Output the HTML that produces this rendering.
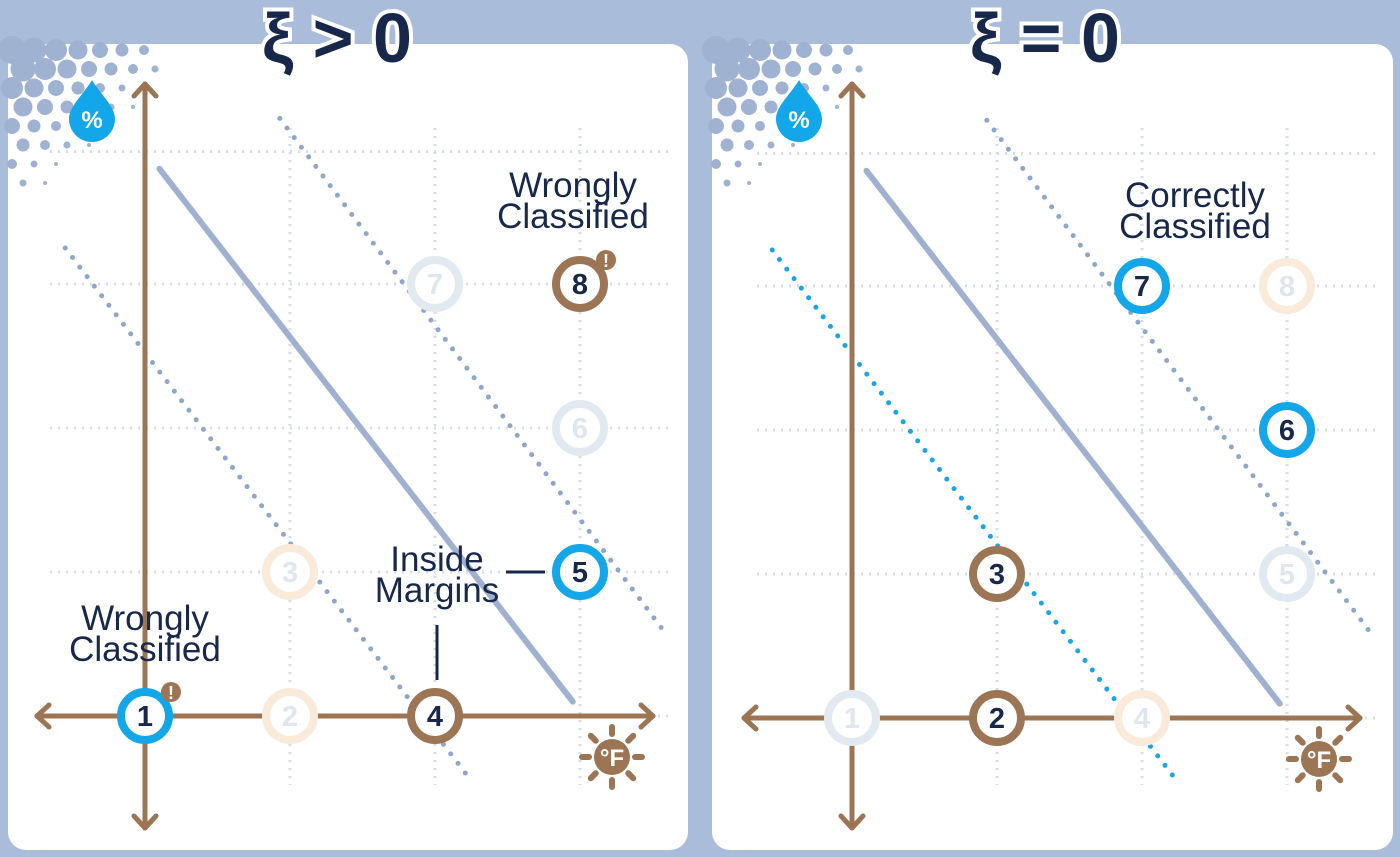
<!DOCTYPE html>
<html><head><meta charset="utf-8">
<style>
html,body{margin:0;padding:0;background:#a9bcda;}
svg{display:block;}
text{font-family:"Liberation Sans","DejaVu Sans",sans-serif;}
</style></head>
<body>
<svg id="svg" width="1400" height="857" viewBox="0 0 1400 857" xmlns="http://www.w3.org/2000/svg">
<rect x="0" y="0" width="1400" height="857" fill="#a9bcda"/>
<rect x="8" y="44" width="680" height="806" rx="18" fill="#ffffff"/>
<rect x="712" y="44" width="681" height="806" rx="18" fill="#ffffff"/>
<g id="layer"></g>
</svg>
<script>
// ---- data ----
const panelNames = ["xi-positive", "xi-zero"];
const panelTitles = ["ξ > 0", "ξ = 0"];
const pointIds = [1, 2, 3, 4, 5, 6, 7, 8];
const pointX = [0, 1, 1, 2, 3, 3, 2, 3];
const pointY = [0, 0, 1, 0, 1, 2, 3, 3];
const pointClass = ["blue", "brown", "brown", "brown", "blue", "blue", "blue", "brown"];
const activeLeft = [1, 0, 0, 1, 1, 0, 0, 1];
const activeRight = [0, 1, 1, 0, 0, 1, 1, 0];
const warnLeft = [1, 0, 0, 0, 0, 0, 0, 1];
const gridXTicks = [0, 1, 2, 3];
const gridYTicks = [0, 1, 2, 3, 3.92];
// line endpoints in data units: [x1,y1,x2,y2]
const hyperplane = [0.1, 3.8, 2.95, 0.1];
const marginUpper = [0.93, 4.15, 3.6, 0.56];
const marginLower = [-0.55, 3.25, 2.25, -0.45];

const NS = "http://www.w3.org/2000/svg";
const layer = document.getElementById('layer');
function mk(tag, attrs, parent) {
  const e = document.createElementNS(NS, tag);
  for (const k in attrs) e.setAttribute(k, attrs[k]);
  (parent || layer).appendChild(e);
  return e;
}
const origins = [[145, 716], [852, 718]];
const unit = 145;
function sx(p, v) { return origins[p][0] + v * unit; }
function sy(p, v) { return origins[p][1] - v * 144; }

const BLUE = "#13a6e8", BROWN = "#9c7554", NAVY = "#17284a", GREYB = "#9fb1cf";

panelNames.forEach((pn, p) => {
  const g = mk('g', {});
  
  
  const ox = origins[p][0], oy = origins[p][1];
  // halftone corner
  const px0 = p === 0 ? 8 : 712;
  const ht = mk('g', {fill: "#9fb2d1"}, g);
  
  
  for (let i = 0; i < 7; i++) for (let j = 0; j < 8; j++) {
    const r = Math.max(0, 14 - (i + j) * 1.5);
    if (r > 1.5) mk('circle', {cx: px0 + 4 + i * 22 + (j % 2) * 11, cy: 50 + j * 19, r: r}, ht);
  }
  // grid
  gridXTicks.forEach(t => {
    const l = mk('line', {x1: sx(p, t), x2: sx(p, t), y1: 128, y2: 785, stroke: "#d6dde8", "stroke-width": 3, "stroke-dasharray": "2 6"}, g);
    
    
  });
  gridYTicks.forEach(t => {
    const l = mk('line', {x1: ox - 95, x2: ox + 525, y1: sy(p, t), y2: sy(p, t), stroke: "#d6dde8", "stroke-width": 3, "stroke-dasharray": "2 6"}, g);
    
    
  });
  // margin lines
  const mu = mk('line', {x1: sx(p, marginUpper[0]), y1: sy(p, marginUpper[1]), x2: sx(p, marginUpper[2]), y2: sy(p, marginUpper[3]), stroke: "#8fa6cb", "stroke-width": 5, "stroke-linecap": "round", "stroke-dasharray": "0 12"}, g);
  
  
  const ml = mk('line', {x1: sx(p, marginLower[0]), y1: sy(p, marginLower[1]), x2: sx(p, marginLower[2]), y2: sy(p, marginLower[3]), stroke: p === 1 ? "#18a4e6" : "#8fa6cb", "stroke-width": 5, "stroke-linecap": "round", "stroke-dasharray": "0 12"}, g);
  
  
  const hp = mk('line', {x1: sx(p, hyperplane[0]), y1: sy(p, hyperplane[1]), x2: sx(p, hyperplane[2]), y2: sy(p, hyperplane[3]), stroke: GREYB, "stroke-width": 6, "stroke-linecap": "round"}, g);
  
  
  // axes
  const ax = mk('g', {stroke: BROWN, "stroke-width": 5, fill: "none", "stroke-linecap": "round", "stroke-linejoin": "round"}, g);
  
  
  mk('line', {x1: ox - 108, y1: oy, x2: ox + 508, y2: oy}, ax);
  mk('line', {x1: ox, y1: 84, x2: ox, y2: 828}, ax);
  mk('polyline', {points: `${ox - 96},${oy - 11} ${ox - 108},${oy} ${ox - 96},${oy + 11}`}, ax);
  mk('polyline', {points: `${ox + 496},${oy - 11} ${ox + 508},${oy} ${ox + 496},${oy + 11}`}, ax);
  mk('polyline', {points: `${ox - 11},96 ${ox},84 ${ox + 11},96`}, ax);
  mk('polyline', {points: `${ox - 11},816 ${ox},828 ${ox + 11},816`}, ax);
  // drop icon
  const dx = ox - 53, dy = 112;
  const drop = mk('g', {}, g);
  
  
  mk('path', {d: `M${dx},${dy - 32} C${dx + 8},${dy - 18} ${dx + 23},${dy - 6} ${dx + 23},${dy + 7} A23,23 0 0 1 ${dx - 23},${dy + 7} C${dx - 23},${dy - 6} ${dx - 8},${dy - 18} ${dx},${dy - 32}Z`, fill: BLUE}, drop);
  const pt = mk('text', {x: dx, y: dy + 16, "font-size": 24, "font-weight": "bold", fill: "#fff", "text-anchor": "middle"}, drop);
  pt.textContent = "%";
  // sun icon
  const ux = ox + 467, uy = 41 + oy;
  const sun = mk('g', {}, g);
  
  
  for (let k = 0; k < 8; k++) {
    const a = k * Math.PI / 4;
    mk('line', {x1: ux + Math.cos(a) * 23, y1: uy + Math.sin(a) * 23, x2: ux + Math.cos(a) * 30, y2: uy + Math.sin(a) * 30, stroke: BROWN, "stroke-width": 6, "stroke-linecap": "round"}, sun);
  }
  mk('circle', {cx: ux, cy: uy, r: 18, fill: BROWN}, sun);
  const ft = mk('text', {x: ux, y: uy + 9, "font-size": 24, "font-weight": "bold", fill: "#fff", "text-anchor": "middle"}, sun);
  ft.textContent = "°F";
  // points
  const act = p === 0 ? activeLeft : activeRight;
  pointIds.forEach((id, i) => {
    const cx = sx(p, pointX[i]), cy = sy(p, pointY[i]);
    const pg = mk('g', {}, g);
    
    
    let col;
    if (act[i]) col = pointClass[i] === "blue" ? BLUE : BROWN;
    else col = pointClass[i] === "blue" ? "#e3e9f1" : "#faeada";
    mk('circle', {cx: cx, cy: cy, r: 24, fill: "#fff", stroke: col, "stroke-width": 8}, pg);
    const t = mk('text', {x: cx, y: cy + 10, "font-size": 29, "font-weight": "bold", fill: act[i] ? NAVY : "#e0e6ee", "text-anchor": "middle"}, pg);
    t.textContent = id;
    if (p === 0 && warnLeft[i]) {
      mk('circle', {cx: cx + 26, cy: cy - 24, r: 10, fill: BROWN}, pg);
      const w = mk('text', {x: cx + 26, y: cy - 17, "font-size": 18, "font-weight": "bold", fill: "#fff", "text-anchor": "middle"}, pg);
      w.textContent = "!";
    }
  });
  // title
  const tx = p === 0 ? 337 : 1045;
  const tt = mk('text', {x: tx, y: 62, "font-size": 70, "font-weight": "bold", fill: NAVY, stroke: "#fff", "stroke-width": 8, "paint-order": "stroke", "text-anchor": "middle"}, g);
  
  
  tt.textContent = panelTitles[p];
});

function label(lines, x, y, name) {
  const t = mk('text', {x: x, y: y, "font-size": 35, fill: NAVY, "text-anchor": "middle"});
  
  
  lines.forEach((s, i) => {
    const ts = mk('tspan', {x: x, dy: i === 0 ? 0 : 31}, t);
    ts.textContent = s;
  });
}
label(["Wrongly", "Classified"], 573, 197, 'label-wrongly-classified-8');
label(["Wrongly", "Classified"], 145, 630, 'label-wrongly-classified-1');
label(["Inside", "Margins"], 437, 571, 'label-inside-margins');
label(["Correctly", "Classified"], 1195, 207, 'label-correctly-classified');
const c1 = mk('line', {x1: 506, y1: 572, x2: 545, y2: 572, stroke: NAVY, "stroke-width": 3});


const c2 = mk('line', {x1: 437, y1: 625, x2: 437, y2: 680, stroke: NAVY, "stroke-width": 3});


</script>
</body></html>
